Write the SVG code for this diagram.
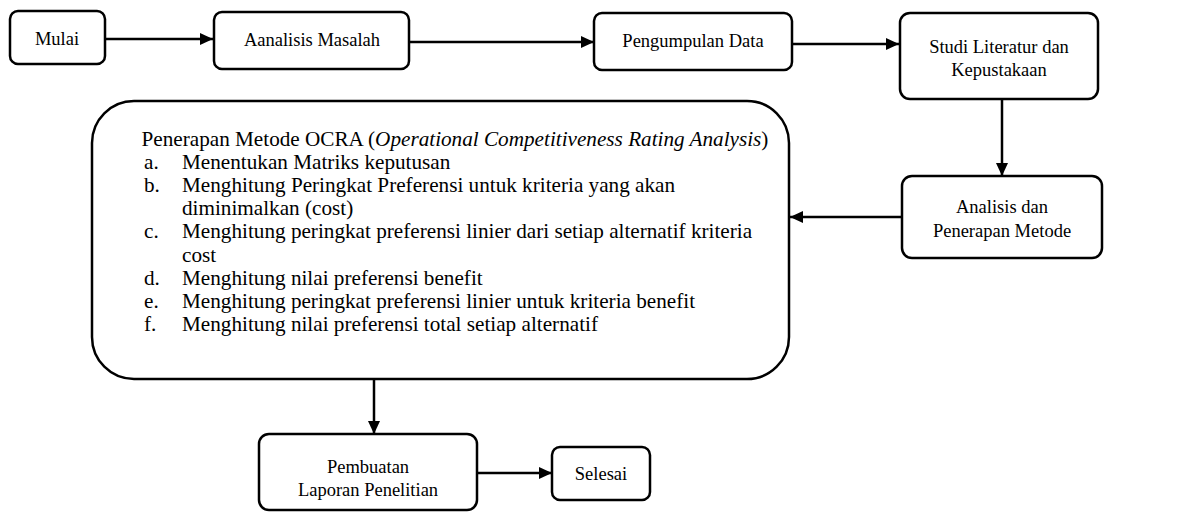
<svg xmlns="http://www.w3.org/2000/svg" width="1188" height="514" viewBox="0 0 1188 514">
<style>
.box{fill:#fff;stroke:#000;stroke-width:2.5}
.c{text-anchor:middle}
.ln{stroke:#000;stroke-width:2.5;fill:none}
</style>
<defs>
<marker id="ah" markerUnits="userSpaceOnUse" markerWidth="14" markerHeight="14" refX="13" refY="7" orient="auto">
<path d="M0,1 L13,7 L0,13 Z" fill="#000"/>
</marker>
</defs>
<rect width="1188" height="514" fill="#fff"/>
<g id="connectors">
<line class="ln" x1="105" y1="39" x2="213" y2="39" marker-end="url(#ah)"/>
<line class="ln" x1="409" y1="42" x2="594" y2="42" marker-end="url(#ah)"/>
<line class="ln" x1="792" y1="44" x2="899" y2="44" marker-end="url(#ah)"/>
<line class="ln" x1="1002" y1="99" x2="1002" y2="176" marker-end="url(#ah)"/>
<line class="ln" x1="902" y1="217" x2="790" y2="217" marker-end="url(#ah)"/>
<line class="ln" x1="374" y1="376" x2="374" y2="434" marker-end="url(#ah)"/>
<line class="ln" x1="477" y1="473" x2="552" y2="473" marker-end="url(#ah)"/>
</g>
<g font-family="Liberation Serif, serif" font-size="18.5" fill="#000">
<g id="mulai">
<rect class="box" x="10" y="11" width="95" height="53" rx="8"/>
<text class="c" x="57" y="45">Mulai</text>
</g>
<g id="analisis-masalah">
<rect class="box" x="214" y="12" width="195" height="57" rx="8"/>
<text class="c" x="312" y="46">Aanalisis Masalah</text>
</g>
<g id="pengumpulan-data">
<rect class="box" x="594" y="13" width="198" height="57" rx="8"/>
<text class="c" x="693" y="47">Pengumpulan Data</text>
</g>
<g id="studi-literatur">
<rect class="box" x="900" y="13" width="198" height="86" rx="10"/>
<text class="c" x="999" y="53">Studi Literatur dan</text>
<text class="c" x="999" y="76">Kepustakaan</text>
</g>
<g id="analisis-penerapan">
<rect class="box" x="902" y="176" width="200" height="82" rx="10"/>
<text class="c" x="1002" y="213">Analisis dan</text>
<text class="c" x="1002" y="236.5">Penerapan Metode</text>
</g>
<g id="penerapan-ocra" font-size="21.2">
<rect class="box" x="92" y="101" width="697" height="278" rx="42"/>
<text x="141.5" y="146">Penerapan Metode OCRA (<tspan font-style="italic">Operational Competitiveness Rating Analysis</tspan>)</text>
<text x="144" y="169.1">a.</text><text x="182" y="169.1">Menentukan Matriks keputusan</text>
<text x="144" y="192.2">b.</text><text x="182" y="192.2">Menghitung Peringkat Preferensi untuk kriteria yang akan</text>
<text x="182" y="215.3">diminimalkan (cost)</text>
<text x="144" y="238.4">c.</text><text x="182" y="238.4">Menghitung peringkat preferensi linier dari setiap alternatif kriteria</text>
<text x="182" y="261.5">cost</text>
<text x="144" y="284.6">d.</text><text x="182" y="284.6">Menghitung nilai preferensi benefit</text>
<text x="144" y="307.7">e.</text><text x="182" y="307.7">Menghitung peringkat preferensi linier untuk kriteria benefit</text>
<text x="144" y="330.8">f.</text><text x="182" y="330.8">Menghitung nilai preferensi total setiap alternatif</text>
</g>
<g id="pembuatan-laporan">
<rect class="box" x="259" y="434" width="218" height="76" rx="10"/>
<text class="c" x="368" y="472.5">Pembuatan</text>
<text class="c" x="368" y="495.5">Laporan Penelitian</text>
</g>
<g id="selesai">
<rect class="box" x="552" y="447" width="98" height="53" rx="8"/>
<text class="c" x="601" y="480">Selesai</text>
</g>
</g>
</svg>
